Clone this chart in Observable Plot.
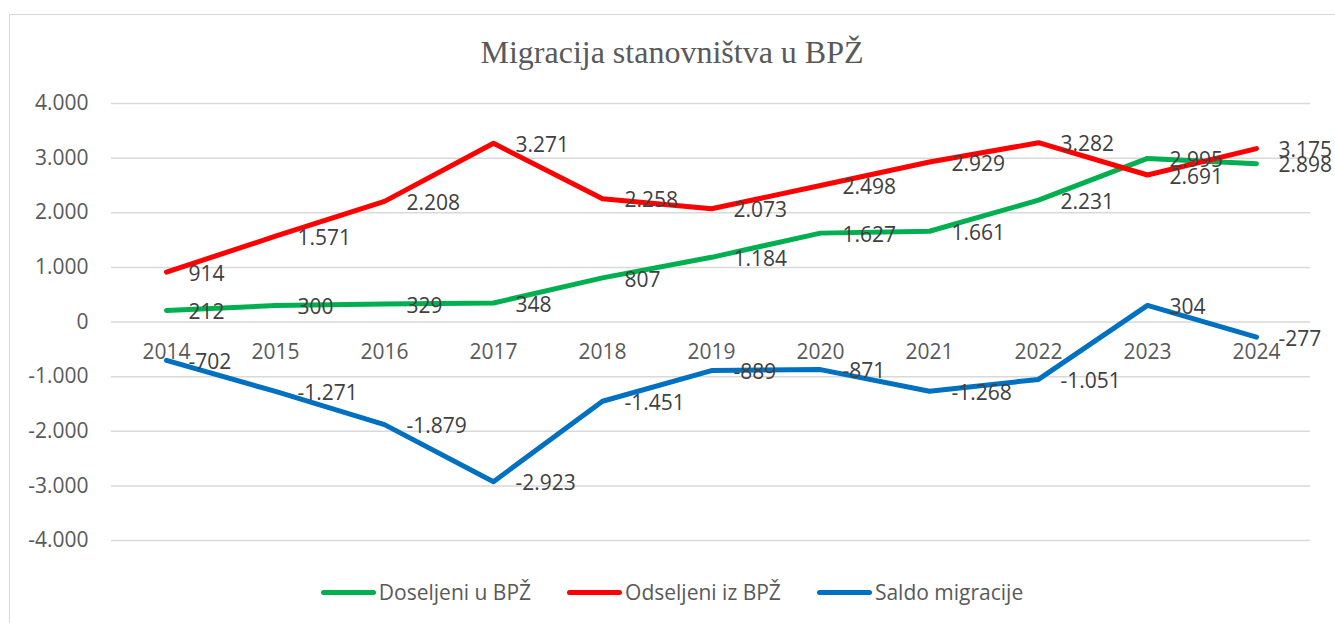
<!DOCTYPE html>
<html><head><meta charset="utf-8">
<script src="https://cdn.jsdelivr.net/npm/d3@7"></script>
<script src="https://cdn.jsdelivr.net/npm/@observablehq/plot@0.6"></script>
<style>
body{margin:0;background:#fff;}
#wrap{position:relative;width:1335px;height:623px;overflow:hidden;font-family:"Open Sans",sans-serif;background:#fff;}
#frame{position:absolute;left:9px;top:14px;width:1340px;height:640px;border:1px solid #d9d9d9;box-sizing:border-box;}
#title{position:absolute;left:9px;width:1326px;top:36px;text-align:center;font-family:"Liberation Serif",serif;font-size:32px;line-height:32px;color:#595959;white-space:nowrap;}
#chart{position:absolute;left:0;top:0;}
#legend{position:absolute;left:9px;width:1326px;top:578px;height:28px;display:flex;justify-content:center;align-items:center;gap:36px;font-size:21px;color:#595959;}
.item{display:flex;align-items:center;white-space:nowrap;}
.sw{width:55px;height:5px;border-radius:3px;margin-right:3px;}
</style></head>
<body>
<div id="wrap">
  <div id="frame"></div>
  <div id="chart"></div>
  <div id="title">Migracija stanovništva u BPŽ</div>
  <div id="legend"></div>
</div>
<script>
const years = [2014, 2015, 2016, 2017, 2018, 2019, 2020, 2021, 2022, 2023, 2024];
const doseljeni = [212, 300, 329, 348, 807, 1184, 1627, 1661, 2231, 2995, 2898];
const odseljeni = [914, 1571, 2208, 3271, 2258, 2073, 2498, 2929, 3282, 2691, 3175];
const saldo = [-702, -1271, -1879, -2923, -1451, -889, -871, -1268, -1051, 304, -277];
const seriesNames = ["Doseljeni u BPŽ", "Odseljeni iz BPŽ", "Saldo migracije"];
const seriesColors = ["#00B050", "#FF0000", "#0070C0"];
const yTicks = [-4000, -3000, -2000, -1000, 0, 1000, 2000, 3000, 4000];

const seriesValues = [doseljeni, odseljeni, saldo];
const rows = [];
seriesNames.forEach((name, i) => {
  years.forEach((yr, j) => rows.push({year: yr, value: seriesValues[i][j], series: name}));
});

const locale = d3.formatLocale({decimal: ",", thousands: ".", grouping: [3], currency: ["", ""], minus: "-"});
const fmt = locale.format(",d");

const chart = Plot.plot({
  width: 1335, height: 623,
  marginLeft: 111, marginRight: 25, marginTop: 103, marginBottom: 83,
  style: {fontFamily: "'Open Sans', sans-serif", fontSize: "21px", background: "transparent", overflow: "visible"},
  x: {type: "point", domain: years, padding: 0.5, axis: null},
  y: {domain: [-4000, 4000], axis: null},
  color: {domain: seriesNames, range: seriesColors},
  marks: [
    Plot.gridY(yTicks, {stroke: "#d9d9d9", strokeOpacity: 1, strokeWidth: 1.5}),
    Plot.axisY(yTicks, {tickSize: 0, tickPadding: 23, tickFormat: fmt, fill: "#595959", fontSize: 21, label: null}),
    Plot.text(years, {x: d => d, y: () => 0, text: d => String(d), dy: 30, fill: "#595959", fontSize: 21}),
    Plot.line(rows, {x: "year", y: "value", z: "series", stroke: "series", strokeWidth: 5, strokeLinejoin: "round", strokeLinecap: "round"}),
    Plot.text(rows, {x: "year", y: "value", text: d => fmt(d.value), textAnchor: "start", dx: 22, dy: 2, fill: "#404040", fontSize: 21})
  ]
});
document.getElementById("chart").appendChild(chart);

const legend = document.getElementById("legend");
seriesNames.forEach((name, i) => {
  const item = document.createElement("div");
  item.className = "item";
  const sw = document.createElement("div");
  sw.className = "sw";
  sw.style.background = seriesColors[i];
  const t = document.createElement("span");
  t.textContent = name;
  item.appendChild(sw);
  item.appendChild(t);
  legend.appendChild(item);
});
</script>
</body></html>
